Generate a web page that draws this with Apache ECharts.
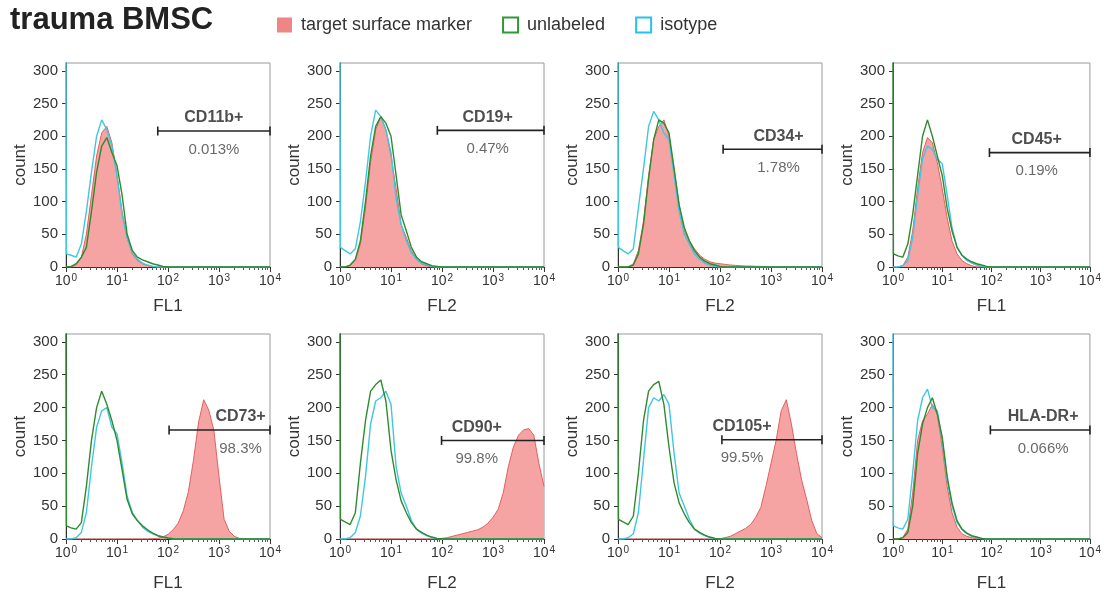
<!DOCTYPE html>
<html><head><meta charset="utf-8">
<script src="https://cdn.jsdelivr.net/npm/echarts@6/dist/echarts.min.js"></script>
<style>html,body{margin:0;padding:0;background:#fff}#c{width:1104px;height:598px}</style>
</head><body><div id="c"></div>
<script>
// ---- data ----
const FL = [1,1.02,1.26,1.58,2.00,2.51,3.16,3.98,5.01,6.31,7.94,10,12.6,15.8,20.0,25.1,31.6,39.8,50.1,63.1,79.4,100,126,158,200,251,316,398,501,631,794,1000,1259,1585,1995,2512,3162,3981,5012,6310,7943,10000];
const markers = ['CD11b+','CD19+','CD34+','CD45+','CD73+','CD90+','CD105+','HLA-DR+'];
const channels = ['FL1','FL2','FL2','FL1','FL1','FL2','FL2','FL1'];
const gatePercent = ['0.013%','0.47%','1.78%','0.19%','98.3%','99.8%','99.5%','0.066%'];
const gateFrom = [63,81,115,91,105,98,109,95];
const gateTo = [10000,10000,10000,10000,10000,10000,10000,10000];
const gateCount = [208,209,180,175,166,150,151,166];
const yTicks = [0,50,100,150,200,250,300];
const xDecades = [1,10,100,1000,10000];
const xMinorTicks = [2,3,4,5,6,7,8,9,20,30,40,50,60,70,80,90,200,300,400,500,600,700,800,900,2000,3000,4000,5000,6000,7000,8000,9000];
const seriesNames = ['target surface marker','unlabeled','isotype'];

const tgt_CD11b = [0,0,0,3,15,50,110,170,205,215,190, 140,85,45,20,10,5,2,1,0,0,0, 0,0,0,0,0,0,0,0,0,0, 0,0,0,0,0,0,0,0,0,0];
const unl_CD11b = [0,0,1,5,15,30,85,145,185,198,175, 155,110,50,25,15,11,8,5,3,1,0, 0,0,0,0,0,0,0,0,0,0, 0,0,0,0,0,0,0,0,0,0];
const iso_CD11b = [320,20,18,15,35,85,145,200,225,210,185, 140,80,45,22,12,6,3,1,0,0,0, 0,0,0,0,0,0,0,0,0,0, 0,0,0,0,0,0,0,0,0,0];

const tgt_CD19 = [0,0,0,2,10,35,90,160,210,230,210, 170,120,65,45,25,12,5,2,0,0,0, 0,0,0,0,0,0,0,0,0,0, 0,0,0,0,0,0,0,0,0,0];
const unl_CD19 = [0,0,0,3,12,40,100,170,215,230,220, 200,140,80,55,30,15,8,5,2,1,0, 0,0,0,0,0,0,0,0,0,0, 0,0,0,0,0,0,0,0,0,0];
const iso_CD19 = [320,30,25,20,28,69,130,200,240,230,210, 175,105,65,40,22,12,6,3,1,0,0, 0,0,0,0,0,0,0,0,0,0, 0,0,0,0,0,0,0,0,0,0];

const tgt_CD34 = [0,0,0,0,5,25,70,140,195,215,225, 200,150,95,55,40,28,18,12,8,6,5, 4,3,2.5,2,1.5,1.5,1,1,0.5,0.5, 0,0,0,0,0,0,0,0,0,0];
const unl_CD34 = [0,0,0,0,3,20,65,135,195,225,220, 205,150,95,60,40,25,15,9,5,3,1, 0,0,0,0,0,0,0,0,0,0, 0,0,0,0,0,0,0,0,0,0];
const iso_CD34 = [320,30,25,20,28,90,150,215,238,225,205, 195,140,85,50,35,20,12,6,3,1,0, 0,0,0,0,0,0,0,0,0,0, 0,0,0,0,0,0,0,0,0,0];

const tgt_CD45 = [0,0,0,2,15,55,120,175,198,190,160, 120,75,40,20,10,5,2,0,0,0,0, 0,0,0,0,0,0,0,0,0,0, 0,0,0,0,0,0,0,0,0,0];
const unl_CD45 = [320,20,17,15,35,80,140,200,225,200,170, 140,90,55,30,18,12,8,5,3,1,0, 0,0,0,0,0,0,0,0,0,0, 0,0,0,0,0,0,0,0,0,0];
const iso_CD45 = [0,0,0,2,10,45,110,165,185,180,165, 158,110,60,30,18,10,6,3,1,0,0, 0,0,0,0,0,0,0,0,0,0, 0,0,0,0,0,0,0,0,0,0];

const tgt_CD73 = [0,0,0,0,0,0,0,0,0,0,0, 0,0,0,0,0,0,0,0.5,1,3,7, 14,24,43,72,120,178,212,196,165,95, 30,12,4,1,0,0,0,0,0,0];
const unl_CD73 = [320,20,17,15,25,80,150,200,225,205,180, 150,105,60,38,28,20,14,9,5,3,1.5, 0.5,0,0,0,0,0,0,0,0,0, 0,0,0,0,0,0,0,0,0,0];
const iso_CD73 = [0,0,0,2,10,40,110,170,195,200,170, 160,115,65,40,28,18,12,8,5,3,1, 0,0,0,0,0,0,0,0,0,0, 0,0,0,0,0,0,0,0,0,0];

const tgt_CD90 = [0,0,0,0,0,0,0,0,0,0,0, 0,0,0,0,0,0,0,0,0,0,1, 2,4,6,8,10,12,14,18,24,33, 45,70,110,140,158,166,168,158,115,80];
const unl_CD90 = [320,30,26,22,40,115,180,225,235,242,210, 135,90,58,40,25,15,10,6,3,1,0.5, 0,0,0,0,0,0,0,0,0,0, 0,0,0,0,0,0,0,0,0,0];
const iso_CD90 = [0,0,0,2,10,35,95,175,210,215,225, 205,110,70,50,28,15,9,5,2,1,0, 0,0,0,0,0,0,0,0,0,0, 0,0,0,0,0,0,0,0,0,0];

const tgt_CD105 = [0,0,0,0,0,0,0,0,0,0,0, 0,0,0,0,0,0,0,0,0,0,0.5, 2,4,8,12,16,22,33,48,80,115, 150,195,212,175,130,90,60,28,8,2];
const unl_CD105 = [320,30,26,22,35,100,180,225,235,240,205, 140,85,55,38,25,15,10,6,3,1,0, 0,0,0,0,0,0,0,0,0,0, 0,0,0,0,0,0,0,0,0,0];
const iso_CD105 = [0,0,0,2,8,40,120,200,215,210,220, 205,130,70,50,30,15,9,5,2,1,0, 0,0,0,0,0,0,0,0,0,0, 0,0,0,0,0,0,0,0,0,0];

const tgt_HLADR = [0,0,0,2,15,70,150,180,190,205,190, 140,80,40,18,8,4,2,1,0,0,0, 0,0,0,0,0,0,0,0,0,0, 0,0,0,0,0,0,0,0,0,0];
const unl_HLADR = [0,0,0,2,10,50,130,175,200,215,190, 155,95,55,28,15,9,5,3,1,0,0, 0,0,0,0,0,0,0,0,0,0, 0,0,0,0,0,0,0,0,0,0];
const iso_HLADR = [320,20,17,15,30,100,180,215,228,200,195, 150,90,50,25,15,8,4,2,1,0,0, 0,0,0,0,0,0,0,0,0,0, 0,0,0,0,0,0,0,0,0,0];

const panelTarget = [tgt_CD11b,tgt_CD19,tgt_CD34,tgt_CD45,tgt_CD73,tgt_CD90,tgt_CD105,tgt_HLADR];
const panelUnlabeled = [unl_CD11b,unl_CD19,unl_CD34,unl_CD45,unl_CD73,unl_CD90,unl_CD105,unl_HLADR];
const panelIsotype = [iso_CD11b,iso_CD19,iso_CD34,iso_CD45,iso_CD73,iso_CD90,iso_CD105,iso_HLADR];

// ---- layout / style ----
const LAYOUT = {
  cols: [66, 340, 618, 893], rows: [63, 334], w: 204, h: [204, 205],
  xNameGap: [31, 36], labelShift: [0, -3, 6, -3, 21, -16, -30, 3]
};
const FONT = 'Liberation Sans, Arial, Helvetica, sans-serif';
const C = { fill: '#f5a3a3', red: '#e2605f', green: '#2e8b2e', cyan: '#3fc7e2', axis: '#333', border: '#9a9a9a', text: '#333' };

const grids = [], xAxes = [], yAxes = [], series = [];
for (let p = 0; p < 8; p++) {
  const r = Math.floor(p / 4), c = p % 4;
  grids.push({ left: LAYOUT.cols[c], top: LAYOUT.rows[r], width: LAYOUT.w, height: LAYOUT.h[r],
    show: true, borderColor: C.border, borderWidth: 1, backgroundColor: 'transparent' });
  xAxes.push({ gridIndex: p, type: 'log', logBase: 10, min: 1, max: 10000, position: 'bottom',
    name: channels[p], nameLocation: 'middle', nameGap: LAYOUT.xNameGap[r],
    nameTextStyle: { fontSize: 17, color: C.text, fontFamily: FONT },
    axisLine: { show: true, lineStyle: { color: C.axis, width: 1 } },
    axisTick: { show: true, length: 5, customValues: xDecades, lineStyle: { color: C.axis } },
    axisLabel: { show: true, customValues: xDecades, margin: 6, fontSize: 14, color: C.text, fontFamily: FONT,
      formatter: v => '10{s|' + Math.round(Math.log10(v)) + '}',
      rich: { s: { fontSize: 10, verticalAlign: 'top', padding: [0, 0, 6, 1], color: C.text, fontFamily: FONT } } },
    splitLine: { show: false } });
  xAxes.push({ gridIndex: p, type: 'log', logBase: 10, min: 1, max: 10000, position: 'bottom', offset: 0,
    axisLine: { show: false }, axisLabel: { show: false },
    axisTick: { show: true, length: 3, customValues: xMinorTicks, lineStyle: { color: '#555' } },
    splitLine: { show: false } });
  yAxes.push({ gridIndex: p, type: 'value', min: 0, max: 312, interval: 50,
    name: 'count', nameLocation: 'middle', nameGap: 36,
    nameTextStyle: { fontSize: 17, color: C.text, fontFamily: FONT },
    axisLine: { show: true, lineStyle: { color: C.axis, width: 1 } },
    axisTick: { show: true, length: 4, customValues: yTicks, lineStyle: { color: C.axis } },
    axisLabel: { show: true, customValues: yTicks, margin: 8, fontSize: 15, color: C.text, fontFamily: FONT,
      formatter: v => (v % 50 === 0 ? String(v) : '') },
    splitLine: { show: false } });

  const mk = arr => FL.map((x, i) => [x, arr[i]]);
  series.push({ name: seriesNames[0], type: 'line', xAxisIndex: 2 * p, yAxisIndex: p, data: mk(panelTarget[p]),
    showSymbol: false, symbol: 'none', lineStyle: { color: C.red, width: 1 }, itemStyle: { color: C.fill },
    areaStyle: { color: C.fill, opacity: 1 }, z: 2, silent: true });
  series.push({ name: seriesNames[2], type: 'line', xAxisIndex: 2 * p, yAxisIndex: p, data: mk(panelIsotype[p]),
    showSymbol: false, symbol: 'none', lineStyle: { color: C.cyan, width: 1.4 }, itemStyle: { color: C.cyan }, z: 3, silent: true });
  series.push({ name: seriesNames[1], type: 'line', xAxisIndex: 2 * p, yAxisIndex: p, data: mk(panelUnlabeled[p]),
    showSymbol: false, symbol: 'none', lineStyle: { color: C.green, width: 1.4 }, itemStyle: { color: C.green }, z: 4, silent: true });
  // gate bar
  series.push({ type: 'line', xAxisIndex: 2 * p, yAxisIndex: p,
    data: [[gateFrom[p], gateCount[p]], [gateTo[p], gateCount[p]]],
    symbol: 'rect', symbolSize: [1.6, 9], showSymbol: true, clip: false,
    itemStyle: { color: '#222' }, lineStyle: { color: '#222', width: 1.6 }, z: 6, silent: true });
  const mid = Math.sqrt(gateFrom[p] * gateTo[p]);
  series.push({ type: 'scatter', xAxisIndex: 2 * p, yAxisIndex: p, symbolSize: 0, z: 7, silent: true, clip: false,
    data: [
      { value: [mid, gateCount[p]], label: { show: true, position: 'top', distance: 5, offset: [LAYOUT.labelShift[p], 0],
        formatter: markers[p], fontSize: 16, fontWeight: 'bold', color: '#222', fontFamily: FONT } },
      { value: [mid, gateCount[p]], label: { show: true, position: 'bottom', distance: 11, offset: [LAYOUT.labelShift[p], 0],
        formatter: gatePercent[p], fontSize: 15, color: '#444', fontFamily: FONT } }
    ] });
}

const option = {
  animation: false,
  backgroundColor: '#fff',
  textStyle: { fontFamily: FONT },
  title: { text: 'trauma BMSC', left: 5, top: 0, textStyle: { fontSize: 31, fontWeight: 'bold', color: '#222', fontFamily: FONT } },
  legend: { left: 272, top: 11, itemWidth: 15, itemHeight: 15, itemGap: 30, selectedMode: false,
    textStyle: { fontSize: 18, color: C.text, fontFamily: FONT, padding: [0, 0, 0, 4] },
    data: [
      { name: seriesNames[0], icon: 'rect', itemStyle: { color: '#f08585', borderWidth: 0 } },
      { name: seriesNames[1], icon: 'rect', itemStyle: { color: '#fff', borderColor: '#2e9a34', borderWidth: 2 } },
      { name: seriesNames[2], icon: 'rect', itemStyle: { color: '#fff', borderColor: '#25c3e8', borderWidth: 2 } }
    ] },
  grid: grids, xAxis: xAxes, yAxis: yAxes, series: series
};
const chart = echarts.init(document.getElementById('c'), null, { renderer: 'canvas' });
chart.setOption(option);
</script></body></html>
